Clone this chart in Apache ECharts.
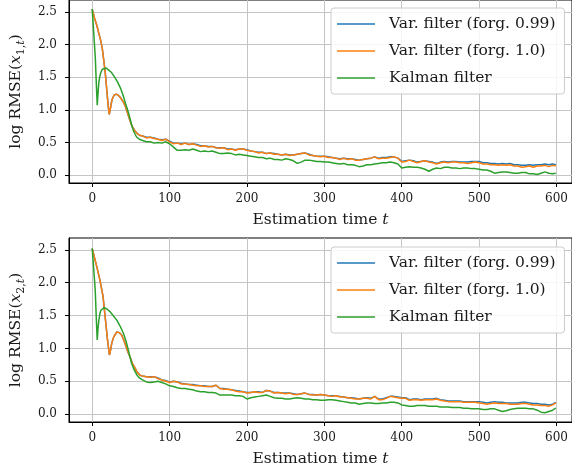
<!DOCTYPE html>
<html>
<head>
<meta charset="utf-8">
<script src="https://cdn.jsdelivr.net/npm/echarts@6/dist/echarts.min.js"></script>
<style>
  html, body { margin: 0; padding: 0; background: #fff; }
  #chart { width: 572px; height: 476px; }
</style>
</head>
<body>
<div id="chart"></div>
<script>
const seriesNames = ['Var. filter (forg. 0.99)', 'Var. filter (forg. 1.0)', 'Kalman filter']
const xTicks = [0, 100, 200, 300, 400, 500, 600]
const yTicks = [0, 0.5, 1, 1.5, 2, 2.5]

// shared sample times after the initial transient
const tTail = [65, 70, 75, 80, 85, 90, 95, 100,
  105, 110, 115, 120, 125, 130, 135, 140, 145, 150,
  155, 160, 165, 170, 175, 180, 185, 190, 195, 200,
  205, 210, 215, 220, 225, 230, 235, 240, 245, 250,
  255, 260, 265, 270, 275, 280, 285, 290, 295, 300,
  305, 310, 315, 320, 325, 330, 335, 340, 345, 350,
  355, 360, 365, 370, 375, 380, 385, 390, 395, 400,
  405, 410, 415, 420, 425, 430, 435, 440, 445, 450,
  455, 460, 465, 470, 475, 480, 485, 490, 495, 500,
  505, 510, 515, 520, 525, 530, 535, 540, 545, 550,
  555, 560, 565, 570, 575, 580, 585, 590, 595, 599]

// ---- top panel (x1) ----
const tVarEarlyTop = [0, 3, 6, 9, 11, 13, 15, 17, 19, 20.5, 22, 23.5, 25.5, 28, 31, 34, 37, 40, 43, 46, 49, 52, 55, 58, 61]
const varEarlyTop = [2.54, 2.40, 2.29, 2.15, 2.06, 1.94, 1.75, 1.55, 1.28, 1.08, 0.93, 1.02, 1.15, 1.22, 1.24, 1.22, 1.18, 1.12, 1.05, 0.94, 0.83, 0.74, 0.68, 0.64, 0.61]
const tKalEarlyTop = [0, 2, 4, 5.5, 6.5, 7.5, 8.6, 10, 11.2, 13, 15.5, 18, 21, 25, 29, 33, 37, 40, 43, 46.8, 49, 51, 54, 57.5, 61]
const kalEarlyTop = [2.54, 2.17, 1.80, 1.35, 1.07, 1.25, 1.42, 1.52, 1.57, 1.62, 1.65, 1.64, 1.61, 1.57, 1.50, 1.42, 1.32, 1.22, 1.10, 0.96, 0.86, 0.76, 0.66, 0.58, 0.55]

const blueTop = [0.60, 0.58, 0.58, 0.57, 0.55, 0.54, 0.55, 0.52,
  0.49, 0.49, 0.48, 0.49, 0.47, 0.48, 0.47, 0.45, 0.45, 0.44,
  0.44, 0.42, 0.42, 0.42, 0.40, 0.40, 0.39, 0.40, 0.40, 0.39,
  0.37, 0.36, 0.35, 0.35, 0.33, 0.34, 0.33, 0.32, 0.31, 0.32,
  0.31, 0.31, 0.32, 0.33, 0.34, 0.32, 0.30, 0.29, 0.29, 0.29,
  0.28, 0.27, 0.26, 0.25, 0.26, 0.25, 0.25, 0.24, 0.23, 0.24,
  0.25, 0.26, 0.28, 0.26, 0.27, 0.27, 0.28, 0.28, 0.26, 0.21,
  0.22, 0.23, 0.22, 0.20, 0.21, 0.22, 0.21, 0.20, 0.18, 0.20,
  0.21, 0.20, 0.21, 0.21, 0.20, 0.20, 0.20, 0.21, 0.21, 0.21,
  0.19, 0.19, 0.18, 0.18, 0.17, 0.18, 0.17, 0.18, 0.16, 0.16,
  0.15, 0.15, 0.16, 0.15, 0.16, 0.16, 0.17, 0.16, 0.17, 0.16]
const orangeTop = [0.60, 0.57, 0.58, 0.56, 0.55, 0.53, 0.55, 0.51,
  0.48, 0.49, 0.47, 0.49, 0.47, 0.48, 0.46, 0.44, 0.45, 0.43,
  0.44, 0.42, 0.41, 0.42, 0.39, 0.40, 0.38, 0.40, 0.40, 0.38,
  0.37, 0.36, 0.34, 0.35, 0.33, 0.34, 0.32, 0.32, 0.31, 0.32,
  0.30, 0.31, 0.32, 0.33, 0.34, 0.31, 0.30, 0.29, 0.28, 0.29,
  0.27, 0.27, 0.26, 0.24, 0.26, 0.24, 0.25, 0.23, 0.23, 0.24,
  0.25, 0.26, 0.28, 0.25, 0.26, 0.26, 0.27, 0.28, 0.26, 0.20,
  0.21, 0.23, 0.21, 0.19, 0.21, 0.22, 0.20, 0.19, 0.17, 0.19,
  0.20, 0.19, 0.20, 0.20, 0.19, 0.19, 0.18, 0.19, 0.20, 0.19,
  0.17, 0.17, 0.16, 0.16, 0.15, 0.16, 0.15, 0.16, 0.14, 0.14,
  0.12, 0.13, 0.14, 0.12, 0.14, 0.14, 0.15, 0.13, 0.15, 0.14]
const greenTop = [0.53, 0.51, 0.51, 0.49, 0.50, 0.49, 0.51, 0.48,
  0.43, 0.38, 0.38, 0.39, 0.38, 0.40, 0.38, 0.36, 0.37, 0.36,
  0.37, 0.35, 0.33, 0.33, 0.34, 0.33, 0.31, 0.32, 0.31, 0.30,
  0.29, 0.28, 0.27, 0.27, 0.25, 0.26, 0.24, 0.24, 0.23, 0.25,
  0.24, 0.22, 0.18, 0.20, 0.23, 0.23, 0.22, 0.21, 0.21, 0.20,
  0.20, 0.19, 0.18, 0.17, 0.18, 0.16, 0.16, 0.15, 0.13, 0.14,
  0.16, 0.16, 0.17, 0.18, 0.19, 0.19, 0.20, 0.19, 0.17, 0.11,
  0.12, 0.13, 0.12, 0.12, 0.11, 0.09, 0.06, 0.09, 0.11, 0.10,
  0.12, 0.12, 0.11, 0.11, 0.10, 0.11, 0.11, 0.10, 0.10, 0.09,
  0.08, 0.08, 0.06, 0.03, 0.04, 0.05, 0.05, 0.04, 0.03, 0.03,
  0.04, 0.04, 0.02, 0.02, 0.01, 0.03, 0.05, 0.03, 0.02, 0.03]

// ---- bottom panel (x2) ----
const tVarEarlyBot = [0, 3, 6, 10, 14, 17, 19.8, 22.3, 24, 25.3, 28, 31.8, 35, 38.2, 41, 43.8, 46, 48.9, 52, 55.4, 58, 61.8]
const varEarlyBot = [2.52, 2.38, 2.24, 2.04, 1.79, 1.45, 1.13, 0.90, 0.99, 1.08, 1.18, 1.25, 1.24, 1.20, 1.12, 1.03, 0.95, 0.87, 0.77, 0.70, 0.64, 0.59]
const tKalEarlyBot = [0, 2, 3.9, 5.5, 6.5, 7.5, 8.6, 10, 11.2, 13, 15.5, 19, 23, 27, 31.8, 36, 40.3, 44, 46.8, 49, 51, 54, 57.5, 61]
const kalEarlyBot = [2.52, 2.20, 1.89, 1.40, 1.13, 1.30, 1.43, 1.53, 1.58, 1.61, 1.62, 1.60, 1.56, 1.50, 1.43, 1.34, 1.23, 1.10, 0.97, 0.86, 0.77, 0.68, 0.60, 0.55]

const blueBot = [0.58, 0.57, 0.57, 0.57, 0.55, 0.52, 0.51, 0.49,
  0.50, 0.49, 0.47, 0.46, 0.45, 0.45, 0.44, 0.43, 0.43, 0.42,
  0.42, 0.44, 0.39, 0.39, 0.38, 0.37, 0.36, 0.35, 0.34, 0.33,
  0.33, 0.34, 0.34, 0.33, 0.36, 0.35, 0.33, 0.33, 0.32, 0.32,
  0.32, 0.31, 0.30, 0.31, 0.32, 0.30, 0.30, 0.29, 0.30, 0.29,
  0.28, 0.28, 0.28, 0.27, 0.26, 0.25, 0.25, 0.24, 0.23, 0.24,
  0.25, 0.24, 0.27, 0.23, 0.23, 0.25, 0.27, 0.27, 0.26, 0.25,
  0.25, 0.22, 0.23, 0.23, 0.22, 0.23, 0.23, 0.23, 0.24, 0.22,
  0.21, 0.20, 0.20, 0.20, 0.20, 0.19, 0.19, 0.19, 0.19, 0.19,
  0.18, 0.17, 0.18, 0.19, 0.18, 0.18, 0.17, 0.17, 0.17, 0.17,
  0.18, 0.18, 0.17, 0.16, 0.16, 0.15, 0.15, 0.14, 0.15, 0.18]
const orangeBot = [0.58, 0.57, 0.56, 0.57, 0.54, 0.52, 0.50, 0.48,
  0.50, 0.49, 0.46, 0.46, 0.45, 0.44, 0.43, 0.43, 0.42, 0.42,
  0.42, 0.44, 0.39, 0.38, 0.38, 0.37, 0.35, 0.34, 0.34, 0.32,
  0.33, 0.34, 0.33, 0.33, 0.36, 0.35, 0.32, 0.33, 0.32, 0.31,
  0.32, 0.30, 0.30, 0.31, 0.32, 0.30, 0.29, 0.29, 0.30, 0.29,
  0.28, 0.27, 0.28, 0.26, 0.26, 0.25, 0.24, 0.23, 0.23, 0.24,
  0.24, 0.23, 0.27, 0.22, 0.22, 0.24, 0.27, 0.26, 0.25, 0.24,
  0.24, 0.21, 0.22, 0.22, 0.21, 0.22, 0.22, 0.22, 0.23, 0.21,
  0.20, 0.19, 0.19, 0.19, 0.19, 0.18, 0.18, 0.18, 0.18, 0.17,
  0.16, 0.15, 0.16, 0.17, 0.16, 0.16, 0.16, 0.15, 0.15, 0.15,
  0.16, 0.16, 0.15, 0.14, 0.14, 0.13, 0.13, 0.12, 0.14, 0.17]
const greenBot = [0.52, 0.49, 0.48, 0.49, 0.50, 0.48, 0.46, 0.43,
  0.42, 0.40, 0.39, 0.39, 0.38, 0.37, 0.35, 0.34, 0.34, 0.33,
  0.33, 0.32, 0.29, 0.29, 0.29, 0.29, 0.28, 0.28, 0.27, 0.23,
  0.25, 0.26, 0.27, 0.28, 0.29, 0.27, 0.25, 0.24, 0.24, 0.23,
  0.23, 0.24, 0.25, 0.24, 0.23, 0.23, 0.22, 0.22, 0.21, 0.21,
  0.22, 0.22, 0.21, 0.20, 0.19, 0.18, 0.17, 0.17, 0.15, 0.16,
  0.17, 0.17, 0.16, 0.16, 0.17, 0.17, 0.18, 0.18, 0.17, 0.14,
  0.13, 0.12, 0.12, 0.13, 0.13, 0.13, 0.12, 0.12, 0.12, 0.11,
  0.11, 0.11, 0.10, 0.10, 0.10, 0.09, 0.09, 0.08, 0.08, 0.08,
  0.07, 0.07, 0.08, 0.08, 0.06, 0.04, 0.05, 0.07, 0.08, 0.09,
  0.09, 0.09, 0.08, 0.08, 0.06, 0.03, 0.02, 0.04, 0.06, 0.09]

const colors = ['#1f77b4', '#ff7f0e', '#2ca02c']
const FONT = 'DejaVu Serif'
const TXT = '#1a1a1a'

const pairs = (ts, vs) => ts.map((t, i) => [t, vs[i]])
const build = (tEarly, early, tail) => pairs(tEarly, early).concat(pairs(tTail, tail))

const chart = echarts.init(document.getElementById('chart'))

const makeX = (gridIndex) => ({
  type: 'value',
  gridIndex,
  min: -30,
  max: 620,
  name: '{r|Estimation time }{i|t}',
  nameLocation: 'middle',
  nameGap: 29,
  nameTextStyle: {
    fontFamily: FONT, fontSize: 15.5, color: TXT,
    rich: {
      r: { fontFamily: FONT, fontSize: 15.5, color: TXT },
      i: { fontFamily: FONT, fontSize: 15.5, color: TXT, fontStyle: 'italic' }
    }
  },
  axisLine: { show: true, onZero: false, lineStyle: { color: '#000', width: 1 } },
  axisTick: { show: true, length: 4, customValues: xTicks, lineStyle: { color: '#000', width: 1 } },
  axisLabel: { customValues: xTicks, margin: 10, fontFamily: FONT, fontSize: 12, color: TXT },
  splitLine: { show: true, lineStyle: { color: '#c4c4c4', width: 1 } }
})

const makeY = (gridIndex, sub) => ({
  type: 'value',
  gridIndex,
  min: -0.12,
  max: 2.68,
  name: '{r|log RMSE(}{i|x}{s|' + sub + ',}{si|t}{r|)}',
  nameLocation: 'middle',
  nameRotate: 90,
  nameGap: 31,
  nameTextStyle: {
    fontFamily: FONT, fontSize: 15.5, color: TXT,
    rich: {
      r: { fontFamily: FONT, fontSize: 15.5, color: TXT, lineHeight: 22, verticalAlign: 'middle' },
      i: { fontFamily: FONT, fontSize: 15.5, color: TXT, fontStyle: 'italic', lineHeight: 22, verticalAlign: 'middle' },
      s: { fontFamily: FONT, fontSize: 11, color: TXT, verticalAlign: 'bottom' },
      si: { fontFamily: FONT, fontSize: 11, color: TXT, fontStyle: 'italic', verticalAlign: 'bottom' }
    }
  },
  axisLine: { show: true, onZero: false, lineStyle: { color: '#000', width: 1 } },
  axisTick: { show: true, length: 4, customValues: yTicks, lineStyle: { color: '#000', width: 1 } },
  axisLabel: { customValues: yTicks, margin: 12, fontFamily: FONT, fontSize: 12, color: TXT, formatter: v => v.toFixed(1) },
  splitLine: { show: true, lineStyle: { color: '#c4c4c4', width: 1 } }
})

const makeLegend = (top) => ({
  data: seriesNames.map(name => ({ name, icon: 'rect' })),
  orient: 'vertical',
  left: 331,
  top,
  padding: [7, 9, 7, 6],
  itemWidth: 38,
  itemHeight: 1.5,
  itemGap: 9,
  backgroundColor: 'rgba(255,255,255,0.85)',
  borderColor: '#cccccc',
  borderWidth: 1,
  borderRadius: 3,
  textStyle: { fontFamily: FONT, fontSize: 15.5, color: TXT, lineHeight: 18, padding: [0, 0, 0, 9] }
})

const line = (name, color, data, idx) => ({
  name,
  type: 'line',
  xAxisIndex: idx,
  yAxisIndex: idx,
  data,
  symbol: 'none',
  lineStyle: { color, width: 1.5 },
  itemStyle: { color },
  z: 3
})

chart.setOption({
  animation: false,
  backgroundColor: '#fff',
  grid: [
    { left: 67, top: -1, right: 0, height: 184, show: true, borderColor: '#000', borderWidth: 1 },
    { left: 67, top: 238, right: 0, height: 184, show: true, borderColor: '#000', borderWidth: 1 }
  ],
  xAxis: [makeX(0), makeX(1)],
  yAxis: [makeY(0, '1'), makeY(1, '2')],
  legend: [makeLegend(8), makeLegend(247)],
  series: [
    line(seriesNames[0], colors[0], build(tVarEarlyTop, varEarlyTop, blueTop), 0),
    line(seriesNames[1], colors[1], build(tVarEarlyTop, varEarlyTop, orangeTop), 0),
    line(seriesNames[2], colors[2], build(tKalEarlyTop, kalEarlyTop, greenTop), 0),
    line(seriesNames[0], colors[0], build(tVarEarlyBot, varEarlyBot, blueBot), 1),
    line(seriesNames[1], colors[1], build(tVarEarlyBot, varEarlyBot, orangeBot), 1),
    line(seriesNames[2], colors[2], build(tKalEarlyBot, kalEarlyBot, greenBot), 1)
  ]
})
</script>
</body>
</html>
